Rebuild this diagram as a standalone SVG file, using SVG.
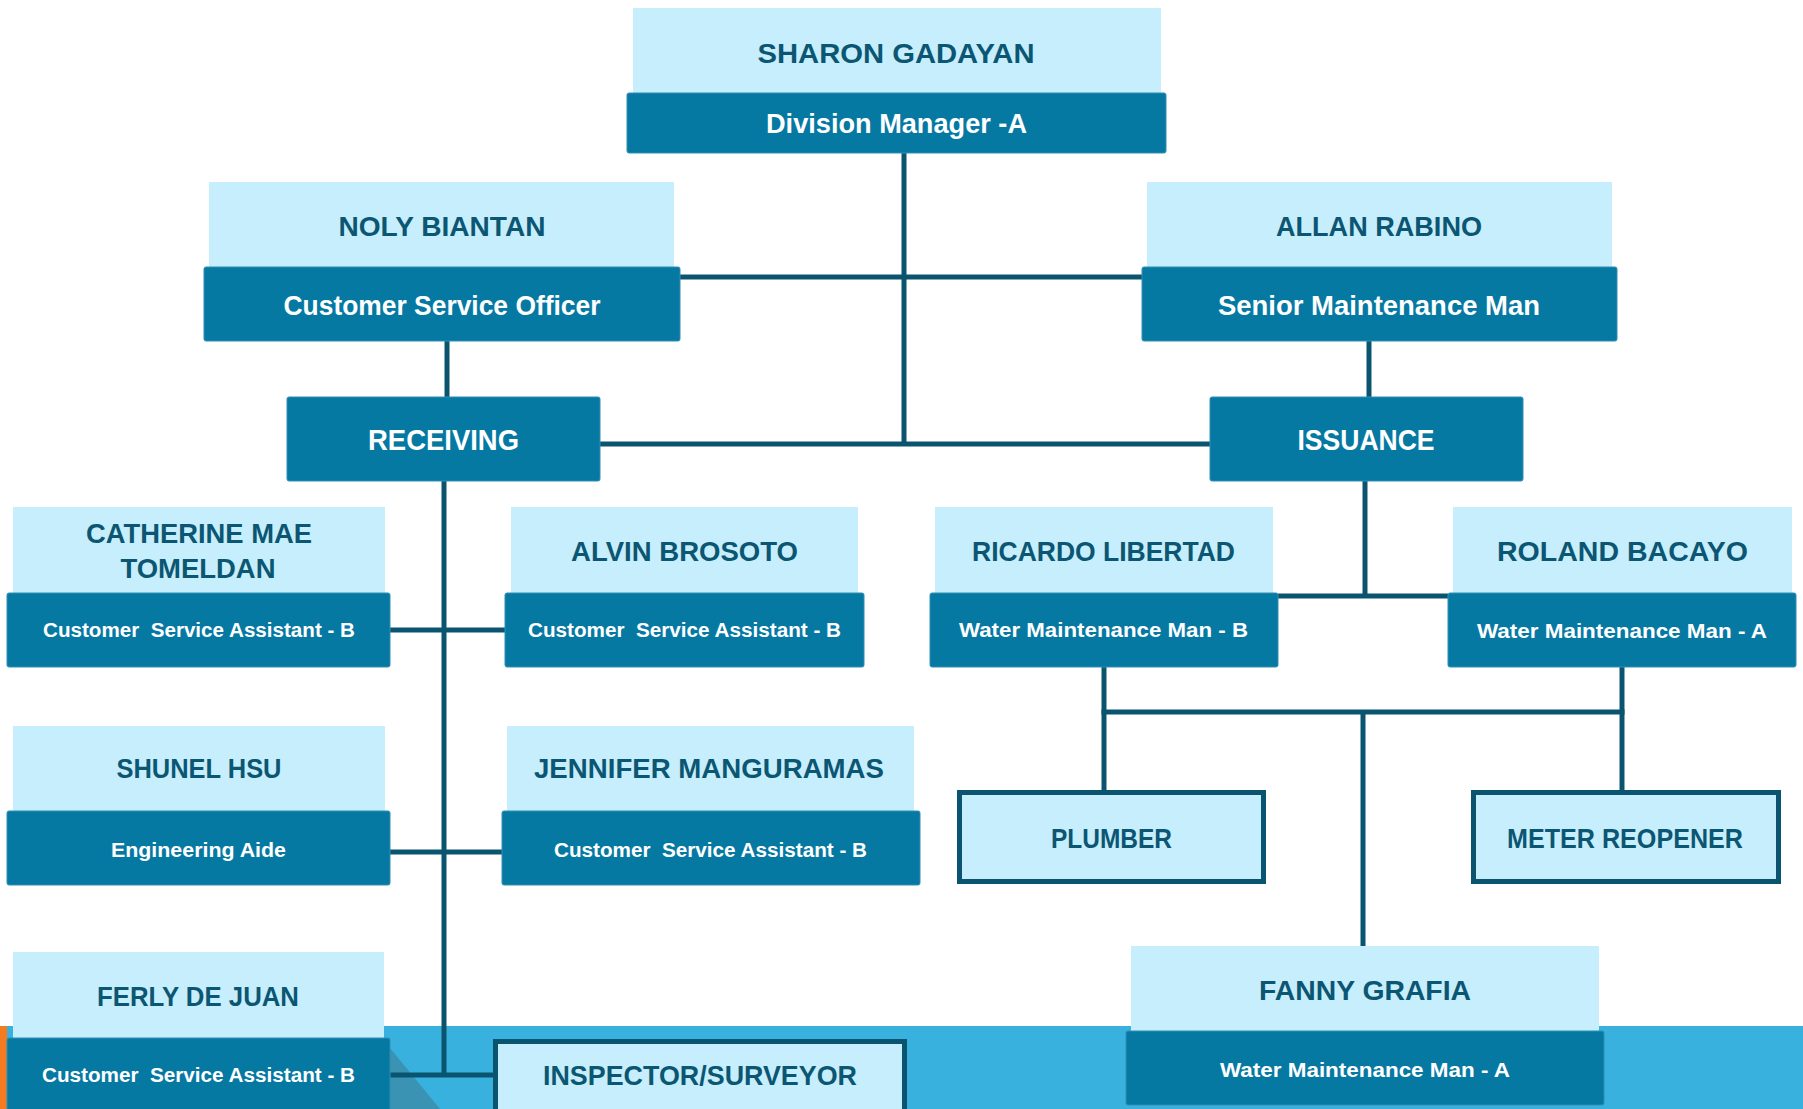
<svg xmlns="http://www.w3.org/2000/svg" width="1803" height="1109" viewBox="0 0 1803 1109">
<style>
.lt{fill:#C7EEFC}
.dk{fill:#0679A3;stroke:#2E8FB5;stroke-width:1}
.ob{fill:#C7EEFC;stroke:#0B5470;stroke-width:5}
.nm{font-family:"Liberation Sans",Arial,sans-serif;font-weight:bold;font-size:28px;fill:#0B5672;text-anchor:middle}
.rl{font-family:"Liberation Sans",Arial,sans-serif;font-weight:bold;font-size:27px;fill:#FFFFFF;text-anchor:middle}
.sr{font-family:"Liberation Sans",Arial,sans-serif;font-weight:bold;font-size:20px;fill:#FFFFFF;text-anchor:middle;white-space:pre}
.sec{font-family:"Liberation Sans",Arial,sans-serif;font-weight:bold;font-size:30px;fill:#FFFFFF;text-anchor:middle}
.ln{stroke:#0B5470;stroke-width:5;fill:none}
</style>
<rect width="1803" height="1109" fill="#FFFFFF"/>
<g id="background">
<rect x="0" y="1026" width="1803" height="83" fill="#38B1DE"/>
<rect x="0" y="1026" width="7" height="83" fill="#F47B20"/>
<polygon points="390,1048 440,1109 390,1109" fill="#3A93B3"/>
</g>
<g id="connectors">
<line class="ln" x1="904" y1="153" x2="904" y2="444"/>
<line class="ln" x1="680" y1="277" x2="1142" y2="277"/>
<line class="ln" x1="447" y1="341" x2="447" y2="397"/>
<line class="ln" x1="1369" y1="341" x2="1369" y2="397"/>
<line class="ln" x1="600" y1="444" x2="1210" y2="444"/>
<line class="ln" x1="444" y1="481" x2="444" y2="1075"/>
<line class="ln" x1="390" y1="630" x2="505" y2="630"/>
<line class="ln" x1="390" y1="852" x2="502" y2="852"/>
<line class="ln" x1="390" y1="1075" x2="493" y2="1075"/>
<line class="ln" x1="1365" y1="481" x2="1365" y2="596"/>
<line class="ln" x1="1278" y1="596" x2="1448" y2="596"/>
<line class="ln" x1="1104" y1="667" x2="1104" y2="790"/>
<line class="ln" x1="1622" y1="667" x2="1622" y2="790"/>
<line class="ln" x1="1101.5" y1="712" x2="1624.5" y2="712"/>
<line class="ln" x1="1363" y1="712" x2="1363" y2="946"/>
</g>
<g id="sharon">
<rect class="lt" x="633" y="8" width="528" height="85"/>
<rect class="dk" x="627" y="93" width="539" height="60" rx="2"/>
<text class="nm" x="896" y="63" textLength="277" lengthAdjust="spacingAndGlyphs">SHARON GADAYAN</text>
<text class="rl" x="896.5" y="133" textLength="261" lengthAdjust="spacingAndGlyphs">Division Manager -A</text>
</g>
<g id="noly">
<rect class="lt" x="209" y="182" width="465" height="85"/>
<rect class="dk" x="204" y="267" width="476" height="74" rx="2"/>
<text class="nm" x="442" y="236" textLength="207" lengthAdjust="spacingAndGlyphs">NOLY BIANTAN</text>
<text class="rl" x="442" y="315" textLength="317" lengthAdjust="spacingAndGlyphs">Customer Service Officer</text>
</g>
<g id="allan">
<rect class="lt" x="1147" y="182" width="465" height="85"/>
<rect class="dk" x="1142" y="267" width="475" height="74" rx="2"/>
<text class="nm" x="1379" y="236" textLength="206" lengthAdjust="spacingAndGlyphs">ALLAN RABINO</text>
<text class="rl" x="1379" y="315" textLength="322" lengthAdjust="spacingAndGlyphs">Senior Maintenance Man</text>
</g>
<g id="receiving">
<rect class="dk" x="287" y="397" width="313" height="84" rx="2"/>
<text class="sec" x="443.5" y="450" textLength="151" lengthAdjust="spacingAndGlyphs">RECEIVING</text>
</g>
<g id="issuance">
<rect class="dk" x="1210" y="397" width="313" height="84" rx="2"/>
<text class="sec" x="1366" y="450" textLength="137" lengthAdjust="spacingAndGlyphs">ISSUANCE</text>
</g>
<g id="catherine">
<rect class="lt" x="13" y="507" width="372" height="86"/>
<rect class="dk" x="7" y="593" width="383" height="74" rx="2"/>
<text class="nm" x="199" y="543" textLength="226" lengthAdjust="spacingAndGlyphs">CATHERINE MAE</text>
<text class="nm" x="198" y="578" textLength="155" lengthAdjust="spacingAndGlyphs">TOMELDAN</text>
<text class="sr" x="199" y="637" textLength="312" lengthAdjust="spacingAndGlyphs">Customer  Service Assistant - B</text>
</g>
<g id="alvin">
<rect class="lt" x="511" y="507" width="347" height="86"/>
<rect class="dk" x="505" y="593" width="359" height="74" rx="2"/>
<text class="nm" x="684.5" y="561" textLength="227" lengthAdjust="spacingAndGlyphs">ALVIN BROSOTO</text>
<text class="sr" x="684.5" y="637" textLength="313" lengthAdjust="spacingAndGlyphs">Customer  Service Assistant - B</text>
</g>
<g id="shunel">
<rect class="lt" x="13" y="726" width="372" height="85"/>
<rect class="dk" x="7" y="811" width="383" height="74" rx="2"/>
<text class="nm" x="199" y="778" textLength="165" lengthAdjust="spacingAndGlyphs">SHUNEL HSU</text>
<text class="sr" x="198.5" y="857" textLength="175" lengthAdjust="spacingAndGlyphs">Engineering Aide</text>
</g>
<g id="jennifer">
<rect class="lt" x="507" y="726" width="407" height="85"/>
<rect class="dk" x="502" y="811" width="418" height="74" rx="2"/>
<text class="nm" x="709" y="778" textLength="350" lengthAdjust="spacingAndGlyphs">JENNIFER MANGURAMAS</text>
<text class="sr" x="710.5" y="857" textLength="313" lengthAdjust="spacingAndGlyphs">Customer  Service Assistant - B</text>
</g>
<g id="ferly">
<rect class="lt" x="13" y="952" width="371" height="86"/>
<rect class="dk" x="7" y="1038" width="383" height="80" rx="2"/>
<text class="nm" x="198" y="1006" textLength="202" lengthAdjust="spacingAndGlyphs">FERLY DE JUAN</text>
<text class="sr" x="198.5" y="1082" textLength="313" lengthAdjust="spacingAndGlyphs">Customer  Service Assistant - B</text>
</g>
<g id="inspector">
<rect class="ob" x="495.5" y="1041.5" width="409" height="80"/>
<text class="nm" x="700" y="1085" textLength="314" lengthAdjust="spacingAndGlyphs">INSPECTOR/SURVEYOR</text>
</g>
<g id="ricardo">
<rect class="lt" x="935" y="507" width="338" height="86"/>
<rect class="dk" x="930" y="593" width="348" height="74" rx="2"/>
<text class="nm" x="1103.5" y="561" textLength="263" lengthAdjust="spacingAndGlyphs">RICARDO LIBERTAD</text>
<text class="sr" x="1103.5" y="637" textLength="289" lengthAdjust="spacingAndGlyphs">Water Maintenance Man - B</text>
</g>
<g id="roland">
<rect class="lt" x="1453" y="507" width="339" height="86"/>
<rect class="dk" x="1448" y="593" width="348" height="74" rx="2"/>
<text class="nm" x="1622.5" y="561" textLength="251" lengthAdjust="spacingAndGlyphs">ROLAND BACAYO</text>
<text class="sr" x="1622" y="638" textLength="290" lengthAdjust="spacingAndGlyphs">Water Maintenance Man - A</text>
</g>
<g id="plumber">
<rect class="ob" x="959.5" y="792.5" width="304" height="89"/>
<text class="nm" x="1111.5" y="848" textLength="121" lengthAdjust="spacingAndGlyphs">PLUMBER</text>
</g>
<g id="meter-reopener">
<rect class="ob" x="1473.5" y="792.5" width="305" height="89"/>
<text class="nm" x="1625" y="848" textLength="236" lengthAdjust="spacingAndGlyphs">METER REOPENER</text>
</g>
<g id="fanny">
<rect class="lt" x="1131" y="946" width="468" height="85"/>
<rect class="dk" x="1126" y="1031" width="478" height="74" rx="2"/>
<text class="nm" x="1365" y="1000" textLength="212" lengthAdjust="spacingAndGlyphs">FANNY GRAFIA</text>
<text class="sr" x="1365" y="1077" textLength="290" lengthAdjust="spacingAndGlyphs">Water Maintenance Man - A</text>
</g>
</svg>
